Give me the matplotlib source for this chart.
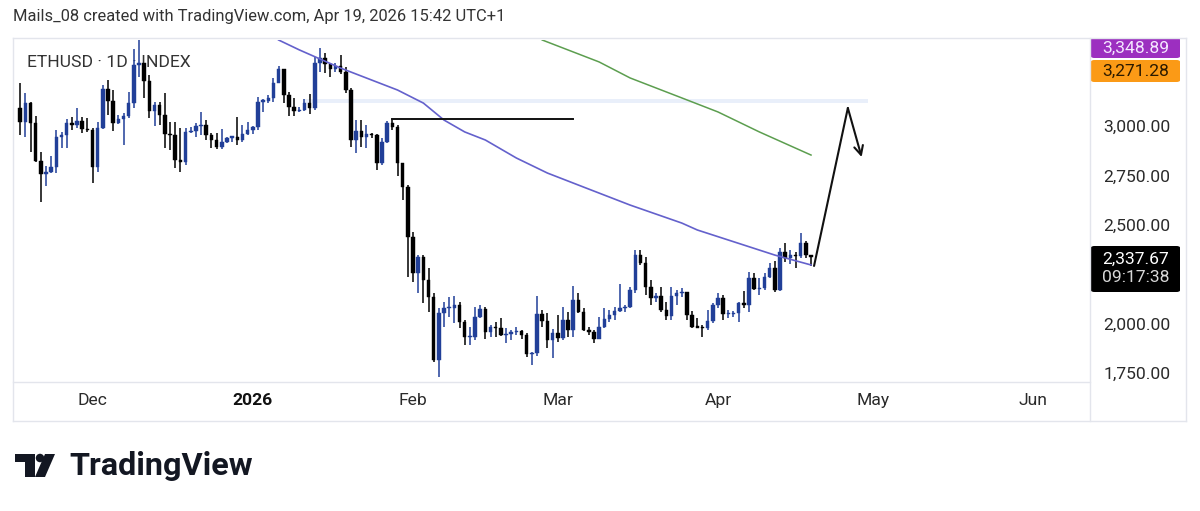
import matplotlib
matplotlib.use("Agg")
import matplotlib.pyplot as plt
import matplotlib.dates as mdates
from matplotlib.patches import Rectangle, Polygon, Ellipse, FancyBboxPatch
import pandas as pd

plt.rcParams['font.family'] = ['Roboto', 'DejaVu Sans']

# ---------------- data ----------------
start_date = '2025-11-17'
opens = [3089, 3022, 3118, 3013, 2824, 2757, 2769, 2791, 2946, 2954,
         3017, 3005, 3027, 2983, 2980, 2791, 2988, 3185, 3128, 3013,
         3035, 3050, 3118, 3308, 3317, 3229, 3077, 3106, 3055, 2959,
         2954, 2830, 2820, 2971, 2976, 3000, 3005, 2954, 2929, 2892,
         2920, 2941, 2945, 2929, 2959, 2980, 2996, 3123, 3126, 3140,
         3219, 3287, 3157, 3098, 3077, 3081, 3114, 3089, 3317, 3342,
         3313, 3287, 3303, 3275, 3182, 2929, 2976, 2946, 2958, 2954,
         2811, 2921, 3017, 2996, 2811, 2693, 2440, 2254, 2338, 2221,
         2133, 1816, 2052, 2077, 2081, 2094, 2010, 1932, 1934, 2036,
         2075, 1959, 1984, 1979, 1942, 1946, 1959, 1961, 1942, 1846,
         1850, 2047, 2016, 1918, 1952, 1930, 2018, 1968, 2120, 2060,
         1966, 1959, 1925, 1983, 2025, 2044, 2062, 2079, 2083, 2168,
         2345, 2309, 2187, 2132, 2140, 2069, 2040, 2141, 2153, 2158,
         2044, 1984, 1980, 1976, 2013, 2094, 2131, 2047, 2050, 2055,
         2103, 2097, 2229, 2175, 2178, 2237, 2280, 2170, 2364, 2330,
         2347, 2342, 2406, 2347]
highs = [3216, 3165, 3123, 3050, 2870, 2797, 2848, 2980, 2971, 3035,
         3044, 3089, 3044, 3039, 2988, 3022, 3207, 3233, 3182, 3055,
         3064, 3173, 3388, 3440, 3317, 3258, 3123, 3123, 3165, 3022,
         3022, 2990, 2988, 2993, 3013, 3072, 3030, 2963, 2963, 2983,
         2946, 2951, 3044, 3005, 3022, 3000, 3148, 3135, 3157, 3241,
         3303, 3287, 3173, 3140, 3098, 3135, 3162, 3351, 3393, 3371,
         3317, 3317, 3359, 3300, 3191, 3030, 3030, 3005, 2963, 2960,
         2937, 3027, 3034, 3005, 2811, 2701, 2465, 2347, 2347, 2280,
         2153, 2077, 2111, 2136, 2140, 2111, 2018, 1984, 2086, 2094,
         2086, 1993, 2010, 2027, 1976, 1968, 1984, 1968, 1951, 1858,
         2140, 2069, 2052, 1971, 2043, 2086, 2060, 2190, 2153, 2077,
         1984, 1968, 2035, 2077, 2069, 2083, 2200, 2094, 2187, 2373,
         2373, 2339, 2221, 2157, 2187, 2111, 2187, 2170, 2182, 2158,
         2064, 2027, 1993, 2069, 2103, 2153, 2145, 2069, 2064, 2111,
         2165, 2263, 2254, 2229, 2258, 2305, 2317, 2381, 2406, 2372,
         2364, 2457, 2418, 2347]
lows = [2954, 2946, 2870, 2819, 2617, 2698, 2760, 2760, 2887, 2887,
        2980, 2988, 2963, 2971, 2713, 2769, 2983, 3055, 2976, 3010,
        2904, 3039, 3089, 3250, 3140, 3039, 3000, 3005, 2887, 2878,
        2785, 2769, 2802, 2963, 2946, 2954, 2929, 2887, 2885, 2885,
        2912, 2920, 2904, 2920, 2954, 2959, 2980, 3072, 3114, 3123,
        3216, 3114, 3050, 3050, 3072, 3077, 3060, 3080, 3275, 3270,
        3249, 3275, 3265, 3165, 2896, 2862, 2895, 2887, 2937, 2777,
        2803, 2912, 2980, 2747, 2625, 2237, 2212, 2153, 2103, 2060,
        1807, 1731, 1984, 2035, 2001, 1976, 1892, 1892, 1917, 2030,
        1925, 1934, 1934, 1940, 1900, 1917, 1942, 1925, 1833, 1791,
        1836, 1984, 1875, 1828, 1909, 1917, 1934, 1934, 2052, 1964,
        1942, 1900, 1920, 1976, 2010, 2018, 2060, 2060, 2077, 2153,
        2297, 2145, 2094, 2111, 2057, 2018, 2018, 2094, 2136, 2018,
        1976, 1976, 1934, 1968, 2001, 2077, 2018, 2030, 2035, 2010,
        2081, 2060, 2170, 2145, 2170, 2229, 2162, 2165, 2313, 2300,
        2283, 2330, 2334, 2293]
closes = [3022, 3118, 3013, 2824, 2757, 2769, 2791, 2946, 2954, 3017,
          3005, 3027, 2983, 2980, 2791, 2988, 3185, 3128, 3013, 3035,
          3050, 3118, 3308, 3317, 3229, 3077, 3106, 3055, 2959, 2954,
          2830, 2820, 2971, 2976, 3000, 3005, 2954, 2929, 2892, 2920,
          2941, 2945, 2929, 2959, 2980, 2996, 3123, 3126, 3140, 3219,
          3287, 3157, 3098, 3077, 3081, 3114, 3089, 3317, 3342, 3313,
          3287, 3303, 3275, 3182, 2929, 2976, 2946, 2958, 2954, 2811,
          2921, 3017, 2996, 2811, 2693, 2440, 2254, 2338, 2221, 2133,
          1816, 2052, 2077, 2081, 2094, 2010, 1932, 1934, 2036, 2075,
          1959, 1984, 1979, 1942, 1946, 1959, 1961, 1942, 1846, 1850,
          2047, 2016, 1918, 1952, 1930, 2018, 1968, 2120, 2060, 1966,
          1959, 1925, 1983, 2025, 2044, 2062, 2079, 2083, 2168, 2345,
          2309, 2187, 2132, 2140, 2069, 2040, 2141, 2153, 2158, 2044,
          1984, 1980, 1976, 2013, 2094, 2131, 2047, 2050, 2055, 2103,
          2097, 2229, 2175, 2178, 2237, 2280, 2170, 2364, 2330, 2347,
          2342, 2406, 2347, 2338]

# moving-average lines
ma_blue_dates = ['2026-01-06', '2026-01-10', '2026-01-18', '2026-01-29', '2026-02-03',
                 '2026-02-07', '2026-02-11', '2026-02-15', '2026-02-21', '2026-02-27',
                 '2026-03-06', '2026-03-15', '2026-03-25', '2026-03-28', '2026-04-12',
                 '2026-04-19']
ma_blue_values = [3435, 3385, 3293, 3182, 3116, 3030, 2970, 2929, 2838, 2762,
                  2691, 2600, 2509, 2474, 2347, 2297]
ma_green_dates = ['2026-02-26', '2026-03-09', '2026-03-15', '2026-03-25', '2026-04-01',
                  '2026-04-09', '2026-04-19']
ma_green_values = [3435, 3324, 3243, 3142, 3071, 2970, 2853]

# drawings
hline_dates = ['2026-01-28', '2026-03-04']
hline_price = 3033
zone_dates = ['2026-01-11', '2026-04-30']
zone_prices = [3114, 3138]
arrow_dates = ['2026-04-19 14:00', '2026-04-26 03:00', '2026-04-28 19:00']
arrow_prices = [2292, 3091, 2843]

price_ticks = [1750, 2000, 2500, 2750, 3000]
month_ticks = ['2025-12-01', '2026-01-01', '2026-02-01', '2026-03-01',
               '2026-04-01', '2026-05-01', '2026-06-01']
month_labels = ['Dec', '2026', 'Feb', 'Mar', 'Apr', 'May', 'Jun']

last_price_label = '2,337.67'
countdown_label = '09:17:38'
purple_label = '3,348.89'
orange_label = '3,271.28'
title_text = 'Mails_08 created with TradingView.com, Apr 19, 2026 15:42 UTC+1'
symbol_text = 'ETHUSD · 1D · INDEX'

# ---------------- figure ----------------
W, H = 1200, 511
fig = plt.figure(figsize=(W / 100, H / 100), dpi=100)
fig.patch.set_facecolor('white')
FS = 12.6


def fx(x):
    return x / W


def fy(y):
    return 1 - y / H


ax = fig.add_axes([fx(15), fy(382), fx(1088) - fx(15), fy(40) - fy(382)])
ax.set_facecolor('white')

dates = pd.date_range(start_date, periods=len(closes), freq='D')
xd = mdates.date2num(dates.to_pydatetime())

UP = '#213f98'
DOWN = '#000000'
for x, o, h, l, c in zip(xd, opens, highs, lows, closes):
    col = UP if c >= o else DOWN
    ax.vlines(x, l, h, color=col, linewidth=1.1, zorder=3)
    bottom = min(o, c)
    height = max(abs(c - o), 6)
    ax.bar(x, height, bottom=bottom, width=0.68, color=col, edgecolor=col,
           linewidth=0.3, zorder=4)

# zone band
zd = mdates.date2num(pd.to_datetime(zone_dates).to_pydatetime())
ax.add_patch(Rectangle((zd[0], zone_prices[0]), zd[1] - zd[0], zone_prices[1] - zone_prices[0],
                       facecolor='#e9effa', edgecolor='none', zorder=1))

# MAs
bd = mdates.date2num(pd.to_datetime(ma_blue_dates).to_pydatetime())
ax.plot(bd, ma_blue_values, color='#6461cc', linewidth=1.2, zorder=5)
gd = mdates.date2num(pd.to_datetime(ma_green_dates).to_pydatetime())
ax.plot(gd, ma_green_values, color='#5c9e4f', linewidth=1.1, zorder=5)

# horizontal line
hd = mdates.date2num(pd.to_datetime(hline_dates).to_pydatetime())
ax.plot(hd, [hline_price, hline_price], color='#111111', linewidth=1.4, zorder=6)

# arrow path
ad = mdates.date2num(pd.to_datetime(arrow_dates).to_pydatetime())
ax.plot(ad[:2], arrow_prices[:2], color='#111111', linewidth=1.5, zorder=6,
        solid_capstyle='round')
ax.annotate('', xy=(ad[2], arrow_prices[2]), xytext=(ad[1], arrow_prices[1]),
            arrowprops=dict(arrowstyle='->', color='#111111', lw=1.5,
                            mutation_scale=16, shrinkA=0, shrinkB=0), zorder=6)

# limits
x0 = mdates.date2num(pd.Timestamp('2025-11-16 00:00').to_pydatetime())
x1 = mdates.date2num(pd.Timestamp('2026-06-11 14:00').to_pydatetime())
ax.set_xlim(x0, x1)
ax.set_ylim(1705, 3435)

for s in ax.spines.values():
    s.set_visible(False)

ax.yaxis.tick_right()
ax.set_yticks(price_ticks)
ax.set_yticklabels([f'{v:,.2f}' for v in price_ticks])
ax.tick_params(axis='y', length=0, pad=11, labelsize=FS, labelcolor='#2a2a2a')

mt = mdates.date2num(pd.to_datetime(month_ticks).to_pydatetime())
ax.set_xticks(mt)
ax.set_xticklabels(month_labels)
ax.tick_params(axis='x', length=0, pad=8, labelsize=FS, labelcolor='#2a2a2a')
for lab in ax.get_xticklabels():
    if lab.get_text() == '2026':
        lab.set_fontweight('bold')
        lab.set_color('#111111')

ax.text(0.011, 0.935, symbol_text, transform=ax.transAxes, fontsize=FS,
        color='#333333', ha='left', va='center', zorder=2)

# borders
bc = '#e3e5ec'
fig.add_artist(plt.Line2D([fx(13), fx(1186)], [fy(38), fy(38)], color=bc, lw=1))
fig.add_artist(plt.Line2D([fx(13), fx(1186)], [fy(421), fy(421)], color=bc, lw=1))
fig.add_artist(plt.Line2D([fx(13), fx(13)], [fy(38), fy(421)], color=bc, lw=1))
fig.add_artist(plt.Line2D([fx(1186), fx(1186)], [fy(38), fy(421)], color=bc, lw=1))
fig.add_artist(plt.Line2D([fx(1090), fx(1090)], [fy(38), fy(421)], color=bc, lw=1))
fig.add_artist(plt.Line2D([fx(13), fx(1090)], [fy(382), fy(382)], color=bc, lw=1))

# title
fig.text(fx(13), fy(17), title_text, fontsize=11.9, color='#333333', ha='left', va='center')


# price axis labels
def label_box(y0, y1, color, txt, tcol):
    fig.add_artist(FancyBboxPatch((fx(1091), fy(y1)), fx(1180) - fx(1091), fy(y0) - fy(y1),
                                  boxstyle='round,pad=0,rounding_size=0.003',
                                  facecolor=color, edgecolor='none',
                                  transform=fig.transFigure))
    fig.text(fx(1136), fy((y0 + y1) / 2), txt, fontsize=FS, color=tcol,
             ha='center', va='center')


label_box(38, 58, '#9c2fc0', purple_label, '#f4e6ff')
label_box(60, 82, '#fb9a16', orange_label, '#2b1a00')
fig.add_artist(FancyBboxPatch((fx(1091), fy(292)), fx(1180) - fx(1091), fy(246) - fy(292),
                              boxstyle='round,pad=0,rounding_size=0.003',
                              facecolor='#000000', edgecolor='none',
                              transform=fig.transFigure))
fig.text(fx(1136), fy(259), last_price_label, fontsize=FS, color='white', ha='center', va='center')
fig.text(fx(1136), fy(278), countdown_label, fontsize=FS, color='#d8d8d8', ha='center', va='center')

# logo
logo_col = '#131722'
fig.add_artist(Polygon([(fx(15), fy(454)), (fx(35), fy(454)), (fx(35), fy(477)),
                        (fx(25), fy(477)), (fx(25), fy(462)), (fx(15), fy(462))],
                       closed=True, facecolor=logo_col, edgecolor='none', transform=fig.transFigure))
fig.add_artist(Ellipse((fx(40), fy(458)), 8.5 / W, 8.5 / H, facecolor=logo_col,
                       edgecolor='none', transform=fig.transFigure))
fig.add_artist(Polygon([(fx(45), fy(454)), (fx(55), fy(454)), (fx(45), fy(477)), (fx(35), fy(477))],
                       closed=True, facecolor=logo_col, edgecolor='none', transform=fig.transFigure))
fig.text(fx(69), fy(466), 'TradingView', fontsize=23.3, fontweight='bold', color=logo_col,
         ha='left', va='center')

fig.savefig('out.png', dpi=100, facecolor='white')
